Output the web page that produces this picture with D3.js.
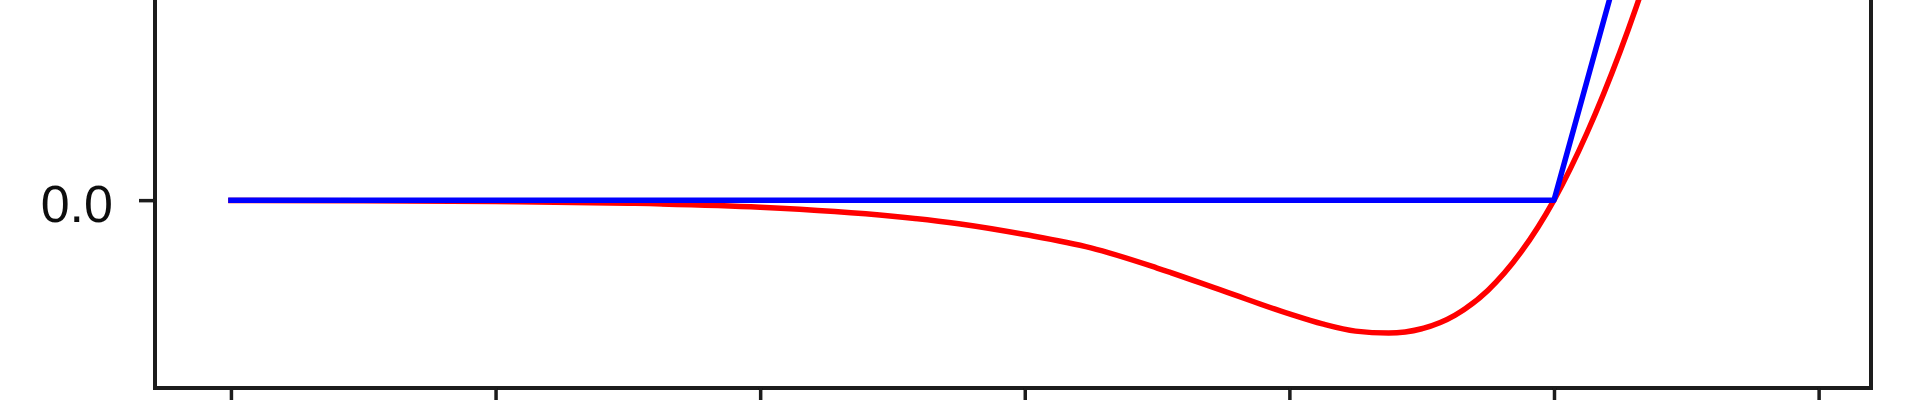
<!DOCTYPE html>
<html>
<head>
<meta charset="utf-8">
<script src="https://cdn.jsdelivr.net/npm/d3@7"></script>
<style>
  body { margin: 0; background: #fff; }
  svg { display: block; }
</style>
</head>
<body>
<svg id="chart" width="1920" height="400"></svg>
<script>
// values
const xTicks = [-10, -8, -6, -4, -2, 0, 2];
const yTicks = [0];

const reluX = [-10, 0, 1.8];
const reluY = [0, 0, 1.8];

const swishX = [-10, -9, -8, -7, -6, -5, -4.5, -4, -3.5, -3, -2.5, -2, -1.75, -1.5, -1.25, -1, -0.75, -0.5, -0.25, 0, 0.25, 0.5, 0.75, 1, 1.25, 1.5, 1.8];
const swishY = [-0.0005, -0.0011, -0.0027, -0.0064, -0.0148, -0.0335, -0.0494, -0.072, -0.1, -0.142, -0.19, -0.238, -0.259, -0.274, -0.278, -0.269, -0.241, -0.189, -0.109, 0, 0.141, 0.311, 0.509, 0.731, 0.972, 1.226, 1.544];

document.addEventListener("DOMContentLoaded", () => {
    const svg = d3.select("#chart");

    // the reference is a soft, upscaled picture
    svg.append("defs").append("filter")
        .attr("id", "soft")
        .append("feGaussianBlur")
        .attr("stdDeviation", 0.7);

    const g = svg.append("g").attr("filter", "url(#soft)");

    // plot box: only the lower part of the axes is in view
    const left = 155, right = 1871, bottom = 388;
    const x = d3.scaleLinear().domain([-10.574, 2.396]).range([left, right]);
    const y = d3.scaleLinear().domain([-0.393, 1.9]).range([bottom, bottom - 2.293 * 478]);

    const line = d3.line()
        .x(d => x(d[0]))
        .y(d => y(d[1]));

    g.append("path")
        .datum(d3.zip(swishX, swishY))
        .attr("fill", "none")
        .attr("stroke", "#ff0000")
        .attr("stroke-width", 5.5)
        .attr("stroke-linecap", "square")
        .attr("stroke-linejoin", "round")
        .attr("d", line.curve(d3.curveMonotoneX));

    g.append("path")
        .datum(d3.zip(reluX, reluY))
        .attr("fill", "none")
        .attr("stroke", "#0000ff")
        .attr("stroke-width", 5.5)
        .attr("stroke-linecap", "square")
        .attr("stroke-linejoin", "round")
        .attr("d", line.curve(d3.curveLinear));

    // spines
    g.append("rect")
        .attr("x", left)
        .attr("y", y.range()[1])
        .attr("width", right - left)
        .attr("height", bottom - y.range()[1])
        .attr("fill", "none")
        .attr("stroke", "#1a1a1a")
        .attr("stroke-width", 4);

    const xAxis = g.append("g")
        .attr("transform", `translate(0,${bottom})`)
        .call(d3.axisBottom(x).tickValues(xTicks).tickSize(14).tickFormat(""));
    xAxis.select(".domain").remove();
    xAxis.selectAll("line").attr("stroke", "#1a1a1a").attr("stroke-width", 3.5);

    const yAxis = g.append("g")
        .attr("transform", `translate(${left},0)`)
        .call(d3.axisLeft(y).tickValues(yTicks).tickSize(16).tickPadding(26).tickFormat(d3.format(".1f")));
    yAxis.select(".domain").remove();
    yAxis.selectAll("line").attr("stroke", "#1a1a1a").attr("stroke-width", 3.5);
    yAxis.selectAll("text")
        .attr("dy", "0.42em")
        .attr("fill", "#111")
        .style("font-family", "'Liberation Sans', Arial, sans-serif")
        .style("font-size", "52px");
});
</script>
</body>
</html>
